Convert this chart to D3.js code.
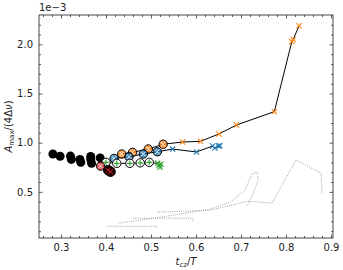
<!DOCTYPE html>
<html>
<head>
<meta charset="utf-8">
<script src="https://cdn.jsdelivr.net/npm/d3@7"></script>
<style>
  body { margin: 0; background: #fff; }
  svg { font-family: "DejaVu Sans", sans-serif; }
</style>
</head>
<body>
<div id="chart"></div>
<script>
// data (y values in units of 1e-3)
const blackPts = [[0.282,0.885],[0.298,0.862],[0.321,0.864],[0.323,0.83],[0.342,0.83],[0.344,0.80],
                  [0.366,0.86],[0.366,0.83],[0.368,0.79],[0.387,0.845]];
const orangeCirc = [[0.435,0.885],[0.459,0.902],[0.494,0.936],[0.527,0.984]];
const orangeX = [[0.570,1.007],[0.610,1.014],[0.651,1.089],[0.690,1.18],[0.774,1.316],[0.813,2.03],[0.816,2.05],[0.829,2.19]];
const blueCirc = [[0.418,0.84],[0.451,0.857],[0.483,0.885],[0.514,0.908]];
const blueX = [[0.548,0.935],[0.601,0.906],[0.637,0.966],[0.642,0.946],[0.650,0.966],[0.653,0.97]];
const greenCirc = [[0.40,0.80],[0.424,0.79],[0.453,0.79],[0.476,0.795],[0.496,0.80]];
const greenX = [[0.515,0.79],[0.518,0.77],[0.520,0.75],[0.522,0.78]];
const redCirc = [[0.388,0.762]];
const darkRed = [[0.405,0.72],[0.41,0.705]];
const grayTracks = [
  [[0.402,0.150],[0.513,0.150],[0.513,0.130]],
  [[0.427,0.181],[0.52,0.242],[0.631,0.323],[0.676,0.395],[0.709,0.517],[0.724,0.681],[0.736,0.701],[0.738,0.619],[0.724,0.446],[0.713,0.354]],
  [[0.46,0.232],[0.593,0.232],[0.593,0.20]],
  [[0.513,0.293],[0.631,0.313],[0.716,0.405],[0.769,0.385],[0.822,0.823],[0.878,0.691],[0.88,0.487]]
];
const xTicks = [0.3,0.4,0.5,0.6,0.7,0.8,0.9];
const yTicks = [0.5,1.0,1.5,2.0];

const colors = {orange:"#ff7f0e", blue:"#1f77b4", green:"#2ca02c", red:"#d62728"};

const W = 343, H = 270;
const margin = {top: 15, right: 10, bottom: 32, left: 39};
const width = W - margin.left - margin.right,
      height = H - margin.top - margin.bottom;

const svg = d3.select("#chart").append("svg")
  .attr("width", W).attr("height", H);
const g = svg.append("g").attr("transform", `translate(${margin.left},${margin.top})`);

const x = d3.scaleLinear().domain([0.2511, 0.9044]).range([0, width]);
const y = d3.scaleLinear().domain([0.0306, 2.299]).range([height, 0]);

// gray dotted tracks
const line = d3.line().x(d => x(d[0])).y(d => y(d[1]));
grayTracks.forEach(t => {
  g.append("path").datum(t)
    .attr("fill", "none").attr("stroke", "#999")
    .attr("stroke-width", 0.9).attr("stroke-dasharray", "1,1.2")
    .attr("d", line);
});

// black filled points
g.selectAll(".blk").data(blackPts).enter().append("circle")
  .attr("cx", d => x(d[0])).attr("cy", d => y(d[1])).attr("r", 4.5)
  .attr("fill", "#000");

// connecting lines
[[orangeCirc, orangeX], [blueCirc, blueX], [greenCirc, greenX.slice(0,1)]].forEach(([a, b]) => {
  g.append("path").datum(a.concat(b))
    .attr("fill", "none").attr("stroke", "#000").attr("stroke-width", 1)
    .attr("d", line);
});

function xMarker(sel, pts, color, s, w) {
  sel.selectAll(null).data(pts).enter().append("path")
    .attr("d", d => {
      const cx = x(d[0]), cy = y(d[1]);
      return `M${cx-s},${cy-s}L${cx+s},${cy+s}M${cx-s},${cy+s}L${cx+s},${cy-s}`;
    })
    .attr("stroke", color).attr("stroke-width", w).attr("fill", "none");
}
function plusMarker(sel, pts, color, s, w) {
  sel.selectAll(null).data(pts).enter().append("path")
    .attr("d", d => {
      const cx = x(d[0]), cy = y(d[1]);
      return `M${cx-s},${cy}L${cx+s},${cy}M${cx},${cy-s}L${cx},${cy+s}`;
    })
    .attr("stroke", color).attr("stroke-width", w).attr("fill", "none");
}
function circles(pts, color, op) {
  g.append("g").selectAll("circle").data(pts).enter().append("circle")
    .attr("cx", d => x(d[0])).attr("cy", d => y(d[1])).attr("r", 4.2)
    .attr("fill", color).attr("fill-opacity", op)
    .attr("stroke", "#000").attr("stroke-width", 1);
}

circles(orangeCirc, colors.orange, 0.75);
xMarker(g.append("g"), orangeCirc, "#fff", 2.2, 0.8);
xMarker(g.append("g"), orangeX, colors.orange, 2.6, 1.1);
circles(blueCirc, colors.blue, 0.75);
xMarker(g.append("g"), blueCirc, "#fff", 2.2, 0.8);
xMarker(g.append("g"), blueX, colors.blue, 2.6, 1.1);
circles(greenCirc, "#fff", 1);
plusMarker(g.append("g"), greenCirc, colors.green, 2.8, 1.1);
xMarker(g.append("g"), greenX, colors.green, 2.6, 1.1);
circles(redCirc, colors.red, 0.75);
xMarker(g.append("g"), redCirc, "#fff", 2.2, 0.8);
g.append("g").selectAll("circle").data(darkRed).enter().append("circle")
  .attr("cx", d => x(d[0])).attr("cy", d => y(d[1])).attr("r", 4.8)
  .attr("fill", "#200").attr("stroke", "#000");
xMarker(g.append("g"), darkRed, colors.red, 2.4, 0.9);

// axes with inward ticks on all sides
const xMinor = d3.range(0.26, 0.905, 0.02).filter(v => Math.abs(v*10 - Math.round(v*10)) > 1e-6);
const yMinor = d3.range(0.1, 2.25, 0.1).filter(v => Math.abs(v*2 - Math.round(v*2)) > 1e-6);

g.append("g").attr("transform", `translate(0,${height})`)
  .call(d3.axisBottom(x).tickValues(xTicks).tickSizeInner(-3.5).tickSizeOuter(0).tickPadding(6).tickFormat(d3.format(".1f")));
g.append("g").attr("transform", `translate(0,${height})`)
  .call(d3.axisBottom(x).tickValues(xMinor).tickSizeInner(-2).tickSizeOuter(0).tickFormat(""));
g.append("g")
  .call(d3.axisTop(x).tickValues(xTicks).tickSizeInner(-3.5).tickSizeOuter(0).tickFormat(""));
g.append("g")
  .call(d3.axisTop(x).tickValues(xMinor).tickSizeInner(-2).tickSizeOuter(0).tickFormat(""));
g.append("g")
  .call(d3.axisLeft(y).tickValues(yTicks).tickSizeInner(-3.5).tickSizeOuter(0).tickPadding(6).tickFormat(d3.format(".1f")));
g.append("g")
  .call(d3.axisLeft(y).tickValues(yMinor).tickSizeInner(-2).tickSizeOuter(0).tickFormat(""));
g.append("g").attr("transform", `translate(${width},0)`)
  .call(d3.axisRight(y).tickValues(yTicks).tickSizeInner(-3.5).tickSizeOuter(0).tickFormat(""));
g.append("g").attr("transform", `translate(${width},0)`)
  .call(d3.axisRight(y).tickValues(yMinor).tickSizeInner(-2).tickSizeOuter(0).tickFormat(""));

g.selectAll(".domain").remove();
g.selectAll(".tick line").attr("stroke", "#333").attr("stroke-width", 0.8);
g.selectAll(".tick text").attr("font-size", 10).attr("fill", "#222")
  .attr("font-family", "DejaVu Sans, sans-serif");

g.append("rect").attr("width", width).attr("height", height)
  .attr("fill", "none").attr("stroke", "#333").attr("stroke-width", 0.9);

// offset text
svg.append("text").attr("x", margin.left).attr("y", 11)
  .attr("font-size", 10).attr("fill", "#222").text("1e\u22123");

// x label
const xl = svg.append("text").attr("x", margin.left + width / 2).attr("y", 265)
  .attr("text-anchor", "middle").attr("font-size", 10).attr("fill", "#222");
xl.append("tspan").attr("font-style", "italic").text("t");
xl.append("tspan").attr("font-size", 7).attr("dy", 2).attr("font-style", "italic").text("cz");
xl.append("tspan").attr("dy", -2).text("/");
xl.append("tspan").attr("font-style", "italic").text("T");

// y label
const yl = svg.append("text")
  .attr("transform", `translate(12,${margin.top + height / 2}) rotate(-90)`)
  .attr("text-anchor", "middle").attr("font-size", 10).attr("fill", "#222");
yl.append("tspan").attr("font-style", "italic").text("A");
yl.append("tspan").attr("font-size", 7).attr("dy", 2).text("max");
yl.append("tspan").attr("dy", -2).text("/(4\u0394");
yl.append("tspan").attr("font-style", "italic").text("\u03bd");
yl.append("tspan").text(")");
</script>
</body>
</html>
